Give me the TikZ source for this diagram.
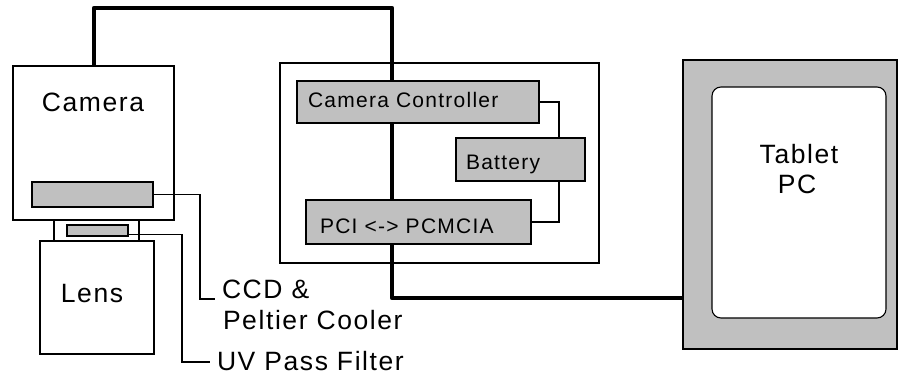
\documentclass[tikz,border=0pt]{standalone}
\usepackage{fontspec}
\setmainfont[LetterSpace=6]{Liberation Sans}
\definecolor{boxgray}{HTML}{C0C0C0}
\tikzset{
  box/.style={draw=black, line width=1.1pt, inner sep=0pt, outer sep=0pt, fill=white},
  graybox/.style={box, fill=boxgray},
  bigtxt/.style={inner sep=0pt, outer sep=0pt, font=\fontsize{26.5}{30}\selectfont},
  smalltxt/.style={inner sep=0pt, outer sep=0pt, font=\fontsize{21}{24}\selectfont},
  cable/.style={line width=4.5pt, line join=round, draw=black},
  wire/.style={line width=1.1pt, draw=black}
}
\begin{document}
\begin{tikzpicture}[x=1pt,y=-1pt]
\useasboundingbox (0,0) rectangle (899,377);
\coordinate (ctop) at (392,8);
\coordinate (cbot) at (392,298);
\coordinate (bx) at (559,0);
\coordinate (ccdend) at (215,299);
\coordinate (uvend) at (210,362);

\node[box, minimum width=319pt, minimum height=200pt] (ctrl) at (439.5,163) {};

% camera
\node[box, minimum width=161pt, minimum height=154pt] (cam) at (93.5,143) {};
\node[graybox, minimum width=121pt, minimum height=25pt] (ccd) at (92.5,194.5) {};
\node[box, minimum width=85pt, minimum height=21pt] (mount) at (96.5,230.5) {};
\node[graybox, minimum width=61pt, minimum height=11pt] (uv) at (97.5,230.5) {};
\node[box, minimum width=114pt, minimum height=113pt] (lens) at (97,297.5) {};
\node[bigtxt, anchor=base] (camtxt) at (93,112) {Camera};
\node[bigtxt, anchor=base] (lenstxt) at (92,302) {Lens};

\draw[cable] (cam.north -| 94,0) |- (ctop) -- (ctop |- 0,81);

% controller internals
\node[graybox, minimum width=242pt, minimum height=42pt] (cc) at (418,102) {};
\node[graybox, minimum width=129pt, minimum height=43pt] (bat) at (520.5,159.5) {};
\node[graybox, minimum width=225pt, minimum height=44pt] (pci) at (418.5,222) {};
\node[smalltxt, anchor=base west] (cctxt) at (308,108) {Camera Controller};
\node[smalltxt, anchor=base west] (battxt) at (466,169) {Battery};
\node[smalltxt, anchor=base west] (pcitxt) at (320,233) {PCI <-> PCMCIA};

\draw[cable] (cc.south -| ctop) -- (pci.north -| ctop);
\draw[cable] (pci.south -| cbot) -- (cbot) -- (683,298);

\draw[wire] (cc.east) -| (bat.north -| bx);
\draw[wire] (bat.south -| bx) |- (pci.east);

% tablet
\node[graybox, minimum width=214pt, minimum height=289pt] (tab) at (790,204.5) {};
\node[box, rounded corners=9pt, minimum width=174pt, minimum height=231pt] (scr) at (799,202.5) {};
\node[bigtxt, anchor=base] (tabtxt) at (799,163) {Tablet};
\node[bigtxt, anchor=base] (pctxt) at (797,193) {PC};

% leaders
\draw[wire] (ccd.east) -- ++(47,0) |- (ccdend);
\draw[wire] ([yshift=-4pt]uv.east) -- ++(54,0) |- (uvend);
\node[bigtxt, anchor=base west] (ccdtxt) at (222,298) {CCD \&};
\node[bigtxt, anchor=base west] (pelttxt) at (223,329) {Peltier Cooler};
\node[bigtxt, anchor=base west] (uvtxt) at (217,370) {UV Pass Filter};
\end{tikzpicture}
\end{document}
